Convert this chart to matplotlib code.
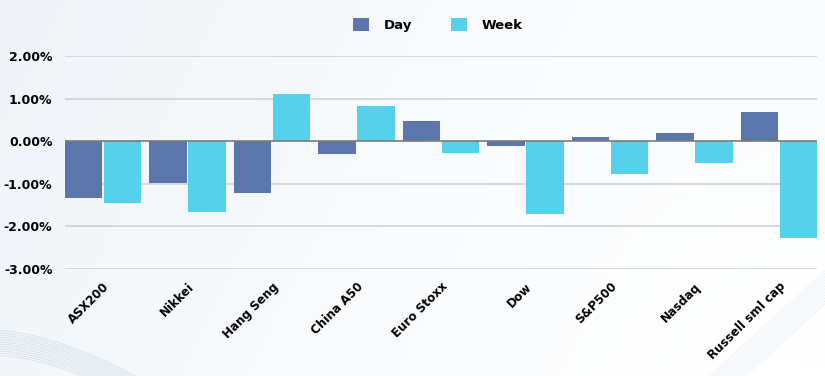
import numpy as np
import matplotlib
matplotlib.use('Agg')
import matplotlib.pyplot as plt
from matplotlib.ticker import FuncFormatter

# index moves, day vs week (%)
markets = ['ASX200', 'Nikkei', 'Hang Seng', 'China A50', 'Euro Stoxx',
           'Dow', 'S&P500', 'Nasdaq', 'Russell sml cap']
day = [-1.34, -0.98, -1.21, -0.30, 0.48, -0.11, 0.11, 0.20, 0.69]
week = [-1.45, -1.67, 1.10, 0.82, -0.28, -1.70, -0.76, -0.52, -2.28]
yticks = [-3, -2, -1, 0, 1, 2]

day_col = '#5a76aa'
week_col = '#55d1eb'

plt.rcParams['font.family'] = ['DejaVu Sans']
plt.rcParams['font.weight'] = 'bold'

fig = plt.figure(figsize=(8.25, 3.76), dpi=100)

# soft background gradient + faint swooshes in the corners
bg = fig.add_axes([0, 0, 1, 1], zorder=-10)
gx, gy = np.meshgrid(np.linspace(0, 1, 200), np.linspace(0, 1, 100))
grad = np.clip(1 - 0.9 * gx - 0.2 * gy, 0, 1) * 0.6 + np.clip(gx - 0.75, 0, 1) * (1 - gy) * 0.6
bg.imshow(grad, cmap=matplotlib.colors.LinearSegmentedColormap.from_list(
    'bg', ['#ffffff', '#e6edf4']), aspect='auto', extent=[0, 1, 0, 1], vmin=0, vmax=1)
t = np.linspace(0, 1, 100)
for k in range(12):
    bg.plot(t * 0.4, 0.12 - k * 0.006 - 0.5 * t ** 1.6, color='#b9cbd8', lw=0.6, alpha=0.5)
    bg.plot(0.86 + t * 0.14 + k * 0.004, 0.0 + t * 0.28, color='#dde5ee', lw=0.6, alpha=0.6)
bg.set_xlim(0, 1)
bg.set_ylim(0, 1)
bg.set_axis_off()

ax = fig.add_axes([65 / 825, 1 - 269 / 376, 752 / 825, 213 / 376])
ax.set_facecolor('none')

x = np.arange(len(markets))
w = 0.44
ax.bar(x - 0.45, day, width=w, align='edge', color=day_col, label='Day', zorder=3)
ax.bar(x + 0.01, week, width=w, align='edge', color=week_col, label='Week', zorder=3)

ax.set_xlim(-0.45, len(markets) - 1 + 0.45)
ax.set_ylim(-3, 2)
ax.set_yticks(yticks)
ax.yaxis.set_major_formatter(FuncFormatter(lambda v, p: f'{v:.2f}%'))
for v in yticks:
    if v == 0:
        ax.axhline(v, color='#7a7a7a', lw=1.2, zorder=4)
    else:
        ax.axhline(v, color='#cfd2d6', lw=1.2, zorder=1)

ax.set_xticks(x)
ax.set_xticklabels(markets, rotation=45, ha='right', va='top',
                   rotation_mode='anchor', fontsize=8.6, fontweight='bold')
ax.tick_params(axis='both', length=0)
ax.tick_params(axis='x', pad=8)
ax.tick_params(axis='y', pad=9, labelsize=9)
for s in ax.spines.values():
    s.set_visible(False)

fig.legend(loc='center', bbox_to_anchor=(438 / 825, 1 - 25 / 376), ncol=2,
           frameon=False, fontsize=9.5, handlelength=1.2, handleheight=1.2,
           handletextpad=1.1, columnspacing=3.0)

fig.savefig('out.png', dpi=100)
